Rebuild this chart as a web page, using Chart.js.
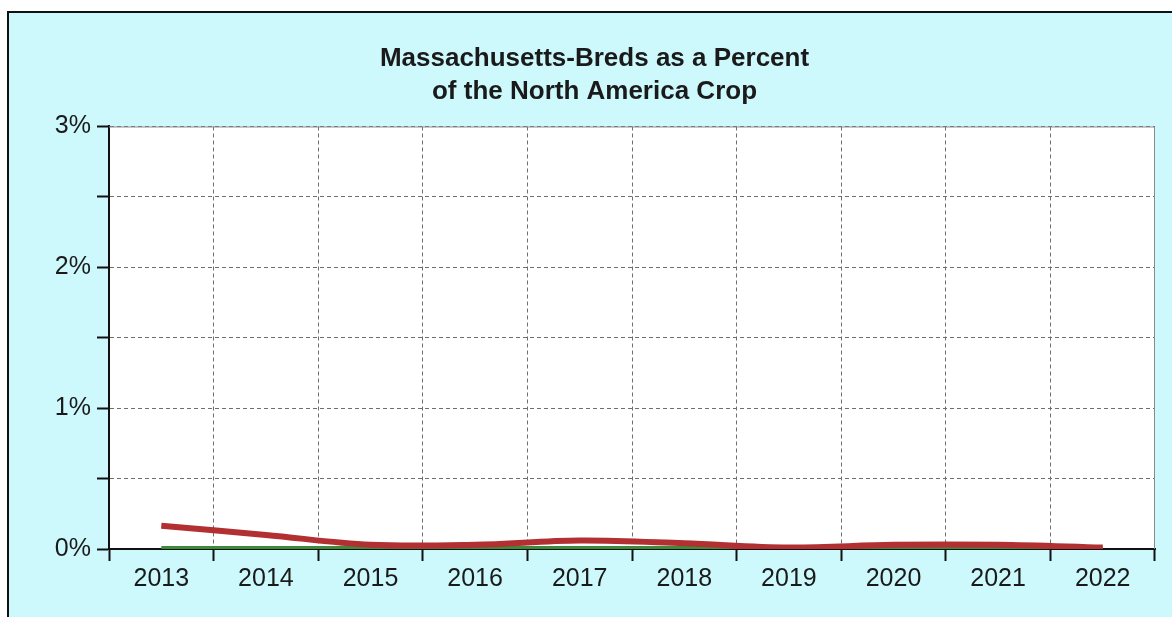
<!DOCTYPE html>
<html>
<head>
<meta charset="utf-8">
<script src="https://cdn.jsdelivr.net/npm/chart.js@4/dist/chart.umd.min.js"></script>
<style>
html,body{margin:0;padding:0;background:#fff;}
#wrap{width:1172px;height:617px;position:relative;}
</style>
</head>
<body>
<div id="wrap"><canvas id="c" width="1172" height="617"></canvas></div>
<script>
const years = ['2013','2014','2015','2016','2017','2018','2019','2020','2021','2022'];
const massBredsPct = [0.165, 0.10, 0.03, 0.03, 0.06, 0.04, 0.01, 0.03, 0.03, 0.01];
const secondSeriesPct = [0.01, 0.01, 0.01, 0.01, 0.01, 0.01, 0.01, 0.01, 0.01, 0.01];
const yTickLabels = {0:'0%',1:'1%',2:'2%',3:'3%'};
const titleLines = ['Massachusetts-Breds as a Percent','of the North America Crop'];

const bgPlugin = {
  id:'bg',
  beforeDraw(chart){
    const ctx = chart.ctx, a = chart.chartArea;
    ctx.save();
    ctx.fillStyle = '#ffffff';
    ctx.fillRect(0,0,chart.width,chart.height);
    ctx.fillStyle = '#cdf9fd';
    ctx.fillRect(8,12,chart.width-8,chart.height-12);
    ctx.strokeStyle = '#111';
    ctx.lineWidth = 2;
    ctx.beginPath();
    ctx.moveTo(8,chart.height);
    ctx.lineTo(8,12);
    ctx.lineTo(chart.width,12);
    ctx.stroke();
    ctx.fillStyle = '#ffffff';
    ctx.fillRect(a.left,a.top,a.right-a.left,a.bottom-a.top);
    ctx.restore();
  },
  afterDatasetsDraw(chart){
    const ctx = chart.ctx, a = chart.chartArea;
    ctx.save();
    ctx.strokeStyle = '#8a8a8a';
    ctx.lineWidth = 1;
    ctx.beginPath();
    ctx.moveTo(a.left,a.top+0.5);
    ctx.lineTo(a.right-0.5,a.top+0.5);
    ctx.lineTo(a.right-0.5,a.bottom);
    ctx.stroke();
    ctx.restore();
  }
};

const FONT = 'Arial, "Liberation Sans", sans-serif';

new Chart(document.getElementById('c'),{
  type:'line',
  data:{
    labels: years,
    datasets:[
      {data: secondSeriesPct, borderColor:'#3f8a3a', borderWidth:3, pointRadius:0, tension:0.3, order:2},
      {data: massBredsPct, borderColor:'#b22f32', borderWidth:6, pointRadius:0, tension:0.35, borderCapStyle:'butt', order:1}
    ]
  },
  plugins:[bgPlugin],
  options:{
    responsive:false,
    animation:false,
    devicePixelRatio:1,
    layout:{padding:{left:34,right:17,top:0,bottom:0}},
    plugins:{
      legend:{display:false},
      tooltip:{enabled:false},
      title:{
        display:true,
        text: titleLines,
        color:'#1a1a1a',
        font:{family:FONT, size:26, weight:'bold', lineHeight:1.24},
        padding:{top:43,bottom:19}
      }
    },
    scales:{
      x:{
        type:'category',
        offset:true,
        grid:{offset:true, color:'#6e6e6e', lineWidth:1, drawTicks:true, tickLength:12, tickColor:'#111', tickWidth:2, tickBorderDash:[]},
        border:{display:true, color:'#111', width:2, dash:[4,3]},
        ticks:{color:'#1a1a1a', font:{family:FONT, size:25}, padding:3, maxRotation:0},
        afterFit(s){ s.height = 68; }
      },
      y:{
        min:0, max:3,
        grid:{color:'#6e6e6e', lineWidth:1, drawTicks:true, tickLength:12, tickColor:'#111', tickWidth:2, tickBorderDash:[]},
        border:{display:true, color:'#111', width:2, dash:[4,3]},
        ticks:{
          stepSize:0.5,
          color:'#1a1a1a',
          font:{family:FONT, size:25},
          padding:6,
          callback:(v)=> (yTickLabels[v] !== undefined ? yTickLabels[v] : '')
        },
        afterFit(s){ s.width = 75; }
      }
    }
  }
});
</script>
</body>
</html>
